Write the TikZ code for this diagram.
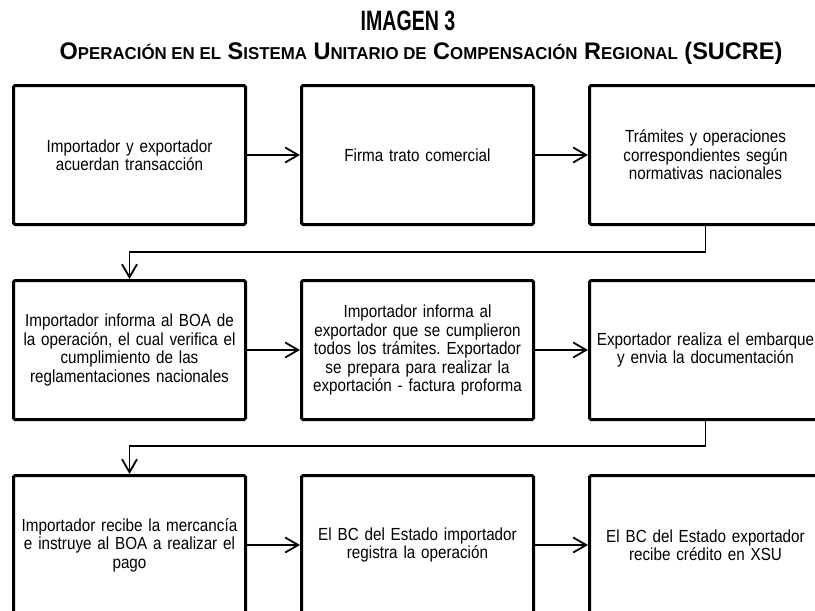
\documentclass[tikz,border=0pt]{standalone}
\usepackage{fontspec}
\setmainfont[FakeStretch=0.87]{Liberation Sans}
\newfontfamily\titlefont[FakeStretch=0.70]{Liberation Sans}
\newfontfamily\subtitlefont[FakeStretch=0.98]{Liberation Sans}
\usetikzlibrary{positioning, arrows.meta}
\tikzset{
    paso/.style = {draw, line width=3pt, rounded corners=1.5pt,
        minimum width=232pt, minimum height=139pt, text width=225pt,
        align=center, font=\fontsize{17.5}{18.5}\selectfont},
    flecha/.style = {line width=1.8pt, -{Straight Barb[length=13pt,width=15pt]}},
}
\newcommand\pcap[1]{{\fontsize{17.2}{17.2}\selectfont #1}}
\frenchspacing

\begin{document}
\begin{tikzpicture}[x=1pt, y=-1pt, node distance=53pt]
\useasboundingbox (0,0) rectangle (815,611);
\clip (0,0) rectangle (815,611);

% title
\node[font=\titlefont\bfseries\fontsize{28}{28}\selectfont] (titulo) at (408,21) {IMAGEN 3};
\node[font=\subtitlefont\bfseries\fontsize{24}{24}\selectfont] (subtitulo) at (421,53)
    {O\pcap{PERACIÓN EN EL} S\pcap{ISTEMA} U\pcap{NITARIO DE} C\pcap{OMPENSACIÓN} R\pcap{EGIONAL} (SUCRE)};

% row 1
\node[paso] (p1) at (129.5,155) {Importador y exportador\\acuerdan transacción};
\node[paso, right=of p1] (p2) {Firma trato comercial};
\node[paso, right=of p2] (p3) {Trámites y operaciones\\correspondientes según\\normativas nacionales};

% row 2
\node[paso, below=of p1] (p4) {Importador informa al BOA de\\la operación, el cual verifica el\\cumplimiento de las\\reglamentaciones nacionales};
\node[paso, right=of p4] (p5) {Importador informa al\\exportador que se cumplieron\\todos los trámites. Exportador\\se prepara para realizar la\\exportación - factura proforma};
\node[paso, right=of p5] (p6) {Exportador realiza el embarque\\y envia la documentación};

% row 3
\node[paso, below=of p4] (p7) {Importador recibe la mercancía\\e instruye al BOA a realizar el\\pago};
\node[paso, right=of p7] (p8) {El BC del Estado importador\\registra la operación};
\node[paso, right=of p8] (p9) {El BC del Estado exportador\\recibe crédito en XSU};

\draw[flecha] (p1) -- (p2);
\draw[flecha] (p2) -- (p3);
\draw[flecha] (p3.south) -- ++(0,26) -| (p4.north);
\draw[flecha] (p4) -- (p5);
\draw[flecha] (p5) -- (p6);
\draw[flecha] (p6.south) -- ++(0,25) -| (p7.north);
\draw[flecha] (p7) -- (p8);
\draw[flecha] (p8) -- (p9);
\end{tikzpicture}
\end{document}
